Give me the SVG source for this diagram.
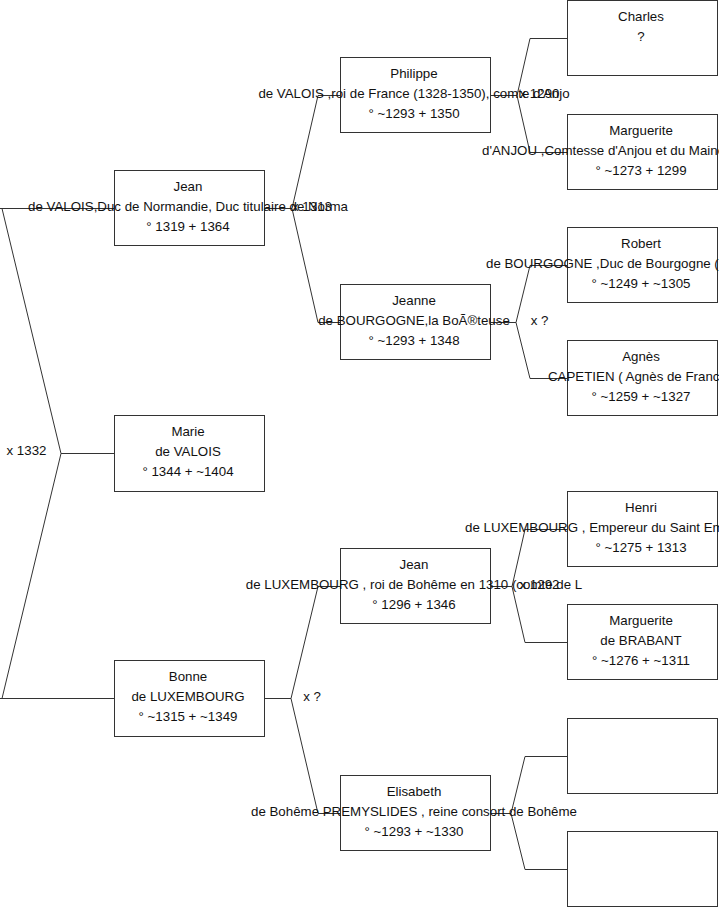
<svg xmlns="http://www.w3.org/2000/svg" width="719" height="908" viewBox="0 0 719 908">
<style>
.box{fill:#fff;stroke:#333;stroke-width:1}
.t{font-family:"Liberation Sans",Arial,sans-serif;font-size:13.3px;fill:#111;text-anchor:middle}
.s{text-anchor:start}
.c{fill:none;stroke:#333;stroke-width:1}
</style>
<rect width="719" height="908" fill="#fff"/>
<g id="connectors">
<path class="c" d="M0,208.5H114.5M61,453.5H114.5M0,698.5H114.5M2,208.5L61,453.5L2,698.5"/>
<path class="c" d="M264.5,208.5H292M318,95.5L292,208.5L318,322.5M318,95.5H340.5M318,322.5H340.5"/>
<path class="c" d="M264.5,698.5H291M318,586.5L291,698.5L318,813.5M318,586.5H340.5M318,813.5H340.5"/>
<path class="c" d="M490.5,95.5H517M530,38.5L517,95.5L530,152.5M530,38.5H567.5M530,152.5H567.5"/>
<path class="c" d="M490.5,322.5H516M530,265.5L516,322.5L530,378.5M530,265.5H567.5M530,378.5H567.5"/>
<path class="c" d="M490.5,586.5H512M525,529.5L512,586.5L525,642.5M525,529.5H567.5M525,642.5H567.5"/>
<path class="c" d="M490.5,813.5H511M525,756.5L511,813.5L525,869.5M525,756.5H567.5M525,869.5H567.5"/>
<text class="t" x="26.5" y="455">x 1332</text>
<text class="t" x="312" y="210.5">x 1313</text>
<text class="t" x="312" y="700.5">x ?</text>
<text class="t" x="539.5" y="97.5">x 1290</text>
<text class="t" x="539.5" y="324.5">x ?</text>
<text class="t" x="539.5" y="588.5">x 1292</text>
</g>
<g id="jean">
<rect class="box" x="114.5" y="170.5" width="150" height="75"/>
<text class="t" x="188" y="190.5">Jean</text>
<text class="t" x="188" y="210.5">de VALOIS,Duc de Normandie, Duc titulaire de Norma</text>
<text class="t" x="188" y="230.5">° 1319 + 1364</text>
</g>
<g id="marie">
<rect class="box" x="114.5" y="415.5" width="150" height="76"/>
<text class="t" x="188" y="435.5">Marie</text>
<text class="t" x="188" y="455.5">de VALOIS</text>
<text class="t" x="188" y="475.5">° 1344 + ~1404</text>
</g>
<g id="bonne">
<rect class="box" x="114.5" y="660.5" width="150" height="76"/>
<text class="t" x="188" y="680.5">Bonne</text>
<text class="t" x="188" y="700.5">de LUXEMBOURG</text>
<text class="t" x="188" y="720.5">° ~1315 + ~1349</text>
</g>
<g id="philippe">
<rect class="box" x="340.5" y="57.5" width="150" height="75"/>
<text class="t" x="414" y="77.5">Philippe</text>
<text class="t" x="414" y="97.5">de VALOIS ,roi de France (1328-1350), comte d'Anjo</text>
<text class="t" x="414" y="117.5">° ~1293 + 1350</text>
</g>
<g id="jeanne">
<rect class="box" x="340.5" y="284.5" width="150" height="75"/>
<text class="t" x="414" y="304.5">Jeanne</text>
<text class="t" x="414" y="324.5">de BOURGOGNE,la BoÃ®teuse</text>
<text class="t" x="414" y="344.5">° ~1293 + 1348</text>
</g>
<g id="jean-lux">
<rect class="box" x="340.5" y="548.5" width="150" height="75"/>
<text class="t" x="414" y="568.5">Jean</text>
<text class="t" x="414" y="588.5">de LUXEMBOURG , roi de Bohême en 1310 (comte de L</text>
<text class="t" x="414" y="608.5">° 1296 + 1346</text>
</g>
<g id="elisabeth">
<rect class="box" x="340.5" y="775.5" width="150" height="75"/>
<text class="t" x="414" y="795.5">Elisabeth</text>
<text class="t" x="414" y="815.5">de Bohême PREMYSLIDES , reine consort de Bohême</text>
<text class="t" x="414" y="835.5">° ~1293 + ~1330</text>
</g>
<g id="charles">
<rect class="box" x="567.5" y="0.5" width="150" height="75"/>
<text class="t" x="641" y="20.5">Charles</text>
<text class="t" x="641" y="40.5">?</text>
</g>
<g id="marguerite-anjou">
<rect class="box" x="567.5" y="114.5" width="150" height="75"/>
<text class="t" x="641" y="134.5">Marguerite</text>
<text class="t s" x="482" y="154.5">d'ANJOU ,Comtesse d'Anjou et du Maine</text>
<text class="t" x="641" y="174.5">° ~1273 + 1299</text>
</g>
<g id="robert">
<rect class="box" x="567.5" y="227.5" width="150" height="75"/>
<text class="t" x="641" y="247.5">Robert</text>
<text class="t s" x="486" y="267.5">de BOURGOGNE ,Duc de Bourgogne (</text>
<text class="t" x="641" y="287.5">° ~1249 + ~1305</text>
</g>
<g id="agnes">
<rect class="box" x="567.5" y="340.5" width="150" height="75"/>
<text class="t" x="641" y="360.5">Agnès</text>
<text class="t s" x="548" y="380.5">CAPETIEN ( Agnès de France</text>
<text class="t" x="641" y="400.5">° ~1259 + ~1327</text>
</g>
<g id="henri">
<rect class="box" x="567.5" y="491.5" width="150" height="75"/>
<text class="t" x="641" y="511.5">Henri</text>
<text class="t s" x="465" y="531.5">de LUXEMBOURG , Empereur du Saint Empire</text>
<text class="t" x="641" y="551.5">° ~1275 + 1313</text>
</g>
<g id="marguerite-brabant">
<rect class="box" x="567.5" y="604.5" width="150" height="75"/>
<text class="t" x="641" y="624.5">Marguerite</text>
<text class="t" x="641" y="644.5">de BRABANT</text>
<text class="t" x="641" y="664.5">° ~1276 + ~1311</text>
</g>
<g id="unknown-1">
<rect class="box" x="567.5" y="718.5" width="150" height="75"/>
</g>
<g id="unknown-2">
<rect class="box" x="567.5" y="831.5" width="150" height="75"/>
</g>
</svg>
